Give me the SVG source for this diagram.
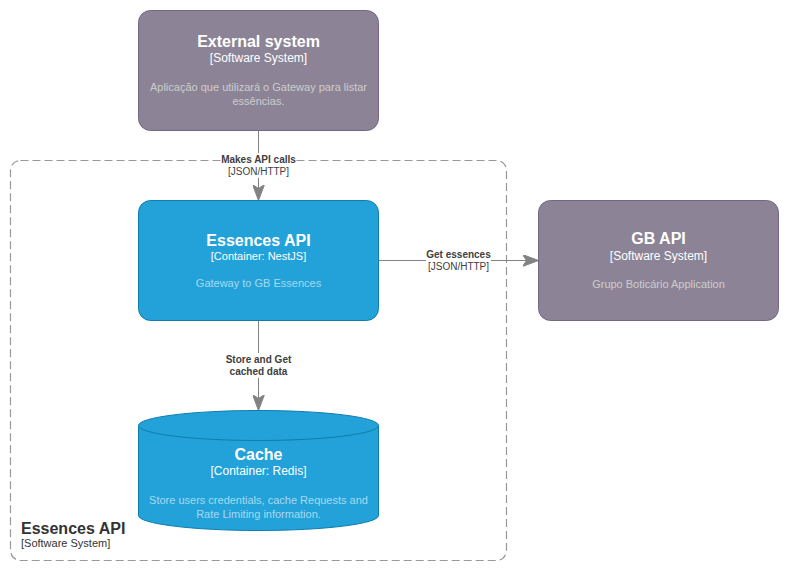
<svg xmlns="http://www.w3.org/2000/svg" width="789" height="571" viewBox="0 0 789 571">
<defs>
<style>
text{font-family:"Liberation Sans",Arial,sans-serif;text-anchor:middle}
.ext{fill:#8C8496;stroke:#736782;stroke-width:1}
.cont{fill:#23A2D9;stroke:#0E7DAD;stroke-width:1}
.t{font-size:16px;font-weight:bold;fill:#ffffff}
.s{font-size:12px;fill:#ffffff}
.sc{font-size:11px;fill:#ffffff}
.d{font-size:11px;fill:#ffffff;fill-opacity:0.6}
.de{font-size:11px;fill:#cccccc}
.lab{font-size:10px;fill:#404040}
.labb{font-size:10px;font-weight:bold;fill:#404040}
.edge{stroke:#828282;stroke-width:1;fill:none}
</style>
<marker id="arr" markerWidth="16" markerHeight="12" refX="16" refY="6" orient="auto" markerUnits="userSpaceOnUse">
<path d="M0,0 L16,6 L0,12 L4,6 Z" fill="#828282" stroke="#828282" stroke-width="1"/>
</marker>
</defs>
<rect width="789" height="571" fill="#ffffff"/>

<g id="boundary">
<rect x="10.5" y="160.5" width="496" height="400" rx="10" ry="10" fill="none" stroke="#999999" stroke-width="1.2" stroke-dasharray="8 4"/>
<text x="21" y="534" style="text-anchor:start;font-size:16px;font-weight:bold;fill:#333333">Essences API</text>
<text x="21" y="547" style="text-anchor:start;font-size:11px;fill:#333333">[Software System]</text>
</g>

<g id="connectors">
<line class="edge" x1="258.5" y1="130.5" x2="258.5" y2="200.5" marker-end="url(#arr)"/>
<rect x="222" y="153" width="73" height="25" fill="#ffffff"/>
<text class="labb" x="258.5" y="163">Makes API calls</text>
<text class="lab" x="258.5" y="175">[JSON/HTTP]</text>

<line class="edge" x1="378.5" y1="260.5" x2="538.5" y2="260.5" marker-end="url(#arr)"/>
<rect x="426" y="249" width="65" height="24" fill="#ffffff"/>
<text class="labb" x="458.5" y="258">Get essences</text>
<text class="lab" x="458.5" y="270">[JSON/HTTP]</text>

<line class="edge" x1="258.5" y1="320.5" x2="258.5" y2="410.5" marker-end="url(#arr)"/>
<rect x="224" y="353" width="69" height="25" fill="#ffffff"/>
<text class="labb" x="258.5" y="363">Store and Get</text>
<text class="labb" x="258.5" y="375">cached data</text>
</g>

<g id="external-system">
<rect class="ext" x="138.5" y="10.5" width="240" height="120" rx="12" ry="12"/>
<text class="t" x="258.5" y="47">External system</text>
<text class="s" x="258.5" y="62">[Software System]</text>
<text class="de" x="258.5" y="91">Aplicação que utilizará o Gateway para listar</text>
<text class="de" x="258.5" y="105">essências.</text>
</g>

<g id="essences-api">
<rect class="cont" x="138.5" y="200.5" width="240" height="120" rx="12" ry="12"/>
<text class="t" x="258.5" y="246">Essences API</text>
<text class="sc" x="258.5" y="260">[Container: NestJS]</text>
<text class="d" x="258.5" y="287">Gateway to GB Essences</text>
</g>

<g id="gb-api">
<rect class="ext" x="538.5" y="200.5" width="240" height="120" rx="12" ry="12"/>
<text class="t" x="658.5" y="244">GB API</text>
<text class="s" x="658.5" y="260">[Software System]</text>
<text class="de" x="658.5" y="288">Grupo Boticário Application</text>
</g>

<g id="cache">
<path class="cont" d="M138.5,425.5 A120,15 0 0 1 378.5,425.5 L378.5,515.5 A120,15 0 0 1 138.5,515.5 Z"/>
<path class="cont" d="M138.5,425.5 A120,15 0 0 0 378.5,425.5" fill="none"/>
<text class="t" x="258.5" y="460">Cache</text>
<text class="s" x="258.5" y="475">[Container: Redis]</text>
<text class="d" x="258.5" y="504">Store users credentials, cache Requests and</text>
<text class="d" x="258.5" y="518">Rate Limiting information.</text>
</g>
</svg>
